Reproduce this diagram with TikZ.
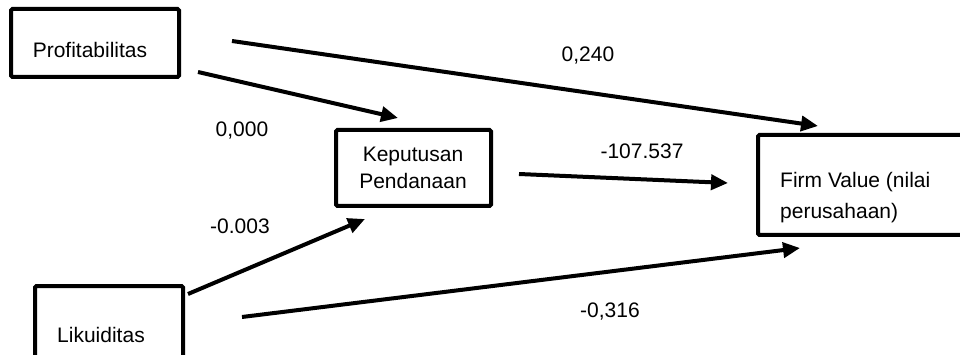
\documentclass[tikz,border=0pt]{standalone}
\usepackage{fontspec}
\setmainfont{Liberation Sans}
\usetikzlibrary{arrows.meta}
\begin{document}
\begin{tikzpicture}[x=1pt,y=-1pt,
  box/.style={draw, line width=4pt, rounded corners=1.5pt, inner sep=0pt},
  lbl/.style={font=\fontsize{21}{25}\selectfont, inner sep=0pt},
  conn/.style={line width=4pt, -{Triangle[length=17pt,width=15pt]}}]
\useasboundingbox (0,0) rectangle (960,355);
\clip (0,0) rectangle (960,355);
% boxes
\node[box, minimum width=168pt, minimum height=68pt] (pbox) at (95,43) {};
\node[box, minimum width=155pt, minimum height=76pt] (kbox) at (413.5,168) {};
\node[box, minimum width=217pt, minimum height=100pt] (fbox) at (866.5,185) {};
\node[box, minimum width=148pt, minimum height=84pt] (lbox) at (109,328) {};
% box texts
\node[lbl] (ptxt) at (90,50) {Profitabilitas};
\node[lbl, align=center, font=\fontsize{21}{27}\selectfont] (ktxt) at (413,168) {Keputusan\\Pendanaan};
\node[lbl, align=left, anchor=west, font=\fontsize{21}{31}\selectfont] (ftxt) at (780,197.5) {Firm Value (nilai\\perusahaan)};
\node[lbl] (ltxt) at (101,335) {Likuiditas};
% connector end points
\coordinate (a1s) at (232,41);  \coordinate (a1e) at (818,126);
\coordinate (a2s) at (198,72);  \coordinate (a2e) at (398,118);
\coordinate (a3s) at (519,174); \coordinate (a3e) at (728,183);
\coordinate (a4s) at (188,294); \coordinate (a4e) at (365,219);
\coordinate (a5s) at (242,317); \coordinate (a5e) at (800,248);
\draw[conn] (a1s) -- (a1e);
\draw[conn] (a2s) -- (a2e);
\draw[conn] (a3s) -- (a3e);
\draw[conn] (a4s) -- (a4e);
\draw[conn] (a5s) -- (a5e);
% coefficient labels
\node[lbl] (c1) at (588,56) {0,240};
\node[lbl] (c2) at (242,131) {0,000};
\node[lbl] (c3) at (642,151) {-107.537};
\node[lbl] (c4) at (240,226) {-0.003};
\node[lbl] (c5) at (610,312) {-0,316};
\end{tikzpicture}
\end{document}
